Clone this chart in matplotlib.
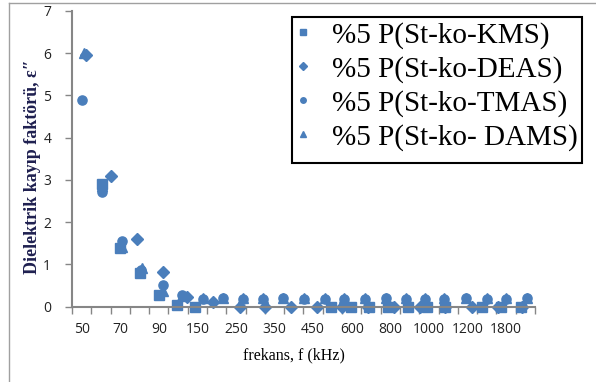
import matplotlib
matplotlib.use("Agg")
import matplotlib.pyplot as plt
from matplotlib.patches import Rectangle
from matplotlib.lines import Line2D

# frequency categories (kHz), every other one is labelled
freqs = [50, 60, 70, 80, 90, 100, 150, 200, 250, 300, 350, 400,
         450, 500, 600, 700, 800, 900, 1000, 1100, 1200, 1500, 1800, 2000]

# positions are in category units (0 = first category)
kms_x = [1.05, 2.0, 3.0, 4.0, 4.95, 5.9, 12.9, 13.95, 14.9, 15.9, 16.9,
         17.9, 18.85, 20.75, 21.75, 22.8]
kms_y = [2.9, 1.38, 0.8, 0.27, 0.03, 0.0, 0.0, 0.0, 0.0, 0.0, 0.0,
         0.0, 0.0, 0.0, 0.0, 0.0]

deas_x = [0.2, 1.53, 2.88, 4.23, 5.45, 6.83, 8.2, 9.5, 10.85, 12.2, 13.5,
          14.85, 16.2, 17.55, 18.85, 20.25, 21.6, 22.85]
deas_y = [5.95, 3.1, 1.6, 0.82, 0.24, 0.1, 0.0, 0.0, 0.0, 0.0, 0.0,
          0.0, 0.0, 0.0, 0.0, 0.0, 0.0, 0.0]

tmas_x = [0, 1.05, 2.1, 3.1, 4.2, 5.2, 6.3, 7.35, 8.35, 9.4, 10.45, 11.55,
          12.6, 13.6, 14.7, 15.8, 16.8, 17.8, 18.8, 19.9, 21.0, 22.0, 23.1]
tmas_y = [4.9, 2.72, 1.55, 0.88, 0.52, 0.28, 0.18, 0.2, 0.18, 0.18, 0.2, 0.18,
          0.18, 0.18, 0.18, 0.2, 0.18, 0.18, 0.18, 0.2, 0.18, 0.18, 0.2]

dams_x = [0.1, 1.05, 2.1, 3.15, 4.2, 5.2, 6.3, 7.35, 8.35, 9.4, 10.45, 11.55,
          12.6, 13.6, 14.7, 15.8, 16.8, 17.8, 18.8, 19.9, 21.0, 22.0, 23.1]
dams_y = [6.0, 2.85, 1.42, 0.92, 0.38, 0.25, 0.2, 0.2, 0.2, 0.2, 0.2, 0.2,
          0.2, 0.2, 0.2, 0.2, 0.2, 0.2, 0.2, 0.2, 0.2, 0.2, 0.2]

labels = ['%5 P(St-ko-KMS)', '%5 P(St-ko-DEAS)', '%5 P(St-ko-TMAS)', '%5 P(St-ko- DAMS)']

blue = '#4A7EBB'
axcol = '#868686'

W, H = 596, 382
fig = plt.figure(figsize=(W / 100, H / 100), dpi=100)
ax = fig.add_axes([72 / W, (H - 306.7) / H, (535 - 72) / W, (306.7 - 11) / H])

kw = dict(linestyle='none', color=blue, clip_on=False)
h1, = ax.plot(kms_x, kms_y, marker='s', markersize=6.8, **kw)
h2, = ax.plot(deas_x, deas_y, marker='D', markersize=6.2, **kw)
h3, = ax.plot(tmas_x, tmas_y, marker='o', markersize=6.6, **kw)
h4, = ax.plot(dams_x, dams_y, marker='^', markersize=7, **kw)

ax.set_xlim(-0.5, len(freqs) - 0.5)
ax.set_ylim(0, 7)
ax.set_yticks(range(0, 8))

# tick marks on category boundaries, labels on every other category centre
ax.set_xticks([i - 0.5 for i in range(len(freqs) + 1)])
ax.set_xticklabels([])
ax.set_xticks(list(range(0, len(freqs), 2)), minor=True)
ax.set_xticklabels([str(f) for f in freqs[::2]], minor=True)
ax.tick_params(axis='x', which='major', direction='out', length=5, width=1, color=axcol)
ax.tick_params(axis='x', which='minor', length=0, pad=11, labelsize=10)
ax.tick_params(axis='y', direction='out', length=5, width=1, color=axcol, pad=10, labelsize=10)
for t in ax.get_xticklabels(minor=True) + ax.get_yticklabels():
    t.set_family('Open Sans')
    t.set_color('#222222')

for s in ['top', 'right']:
    ax.spines[s].set_visible(False)
for s in ['left', 'bottom']:
    ax.spines[s].set_color(axcol)
    ax.spines[s].set_linewidth(1.5)

fig.text(33 / W, 1 - 167 / H, 'Dielektrik kayıp faktörü, ε\u2033', rotation=90,
         ha='center', va='center', family='Liberation Serif', fontweight='bold',
         fontsize=13, color='#1F2050')
fig.text(294 / W, 1 - 355 / H, 'frekans, f (kHz)', ha='center', va='center',
         family='Liberation Serif', fontsize=11.5, color='black')

# outer chart border (left and top visible)
fig.add_artist(Line2D([9 / W, 9 / W], [0, 1 - 3 / H], color='#A0A0A0', lw=1))
fig.add_artist(Line2D([9 / W, 1], [1 - 3 / H, 1 - 3 / H], color='#A0A0A0', lw=1))

# legend box
fig.add_artist(Rectangle((292 / W, 1 - 163 / H), 290 / W, 146 / H, transform=fig.transFigure,
                         fill=False, edgecolor='black', lw=1.5))
leg = fig.legend([h1, h2, h3, h4], labels, loc='upper left',
                 bbox_to_anchor=(288 / W, 1 - 16 / H), frameon=False,
                 prop={'family': 'Liberation Serif', 'size': 21},
                 markerscale=0.6, handlelength=0.6, handletextpad=0.7,
                 labelspacing=0.24, borderpad=0.2, borderaxespad=0)

fig.savefig('out.png', dpi=100)
